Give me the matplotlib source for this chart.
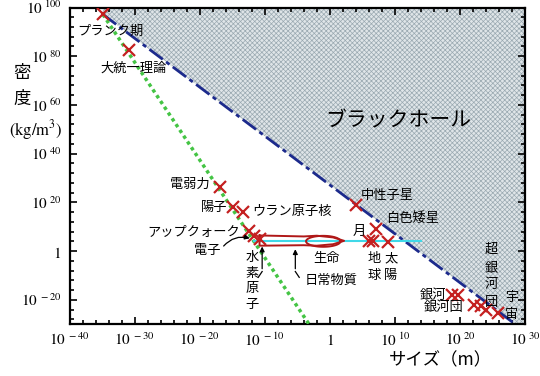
import numpy as np
import matplotlib
matplotlib.use("Agg")
import matplotlib.pyplot as plt
from matplotlib.patches import Polygon
from matplotlib.ticker import FuncFormatter

plt.rcParams['font.family'] = ['Noto Sans CJK JP', 'DejaVu Sans']
plt.rcParams['mathtext.fontset'] = 'stix'
plt.rcParams['hatch.linewidth'] = 0.5

# ---- data (log10 of size in m, log10 of density in kg/m^3) ----
obj_names = ['プランク期', '大統一理論', '電弱力', '陽子', 'ウラン原子核', 'アップクォーク',
             '電子', '水素原子', '中性子星', '白色矮星', '月', '地球', '太陽',
             '銀河1', '銀河2', '銀河団1', '銀河団2', '超銀河団', '宇宙']
log_size = [-34.9, -30.9, -16.9, -14.9, -13.4, -12.4, -11.6, -10.7, 4.1, 7.1,
            6.1, 6.6, 8.9, 18.8, 19.75, 22.2, 23.2, 23.95, 25.8]
log_density = [97.2, 82.5, 26.1, 17.9, 16.1, 8.2, 6.2, 4.8, 18.8, 9.2,
               4.1, 4.1, 3.9, -17.9, -17.9, -22.0, -22.7, -24.3, -25.4]

# black hole limit line (rho ~ R^-2) and early-universe line (rho ~ R^-4)
bh_log_size = [-34.9, 28.5]
bh_log_density = [97.2, -30.0]
eu_log_size = [-34.9, -3.2]
eu_log_density = [97.2, -30.0]

# ordinary matter band (cyan line) and outlines
cyan_log_size = [-11.6, 14.0]
cyan_log_density = [4.3, 4.3]
band_log_size = [-10.8, -10.8, -4.0, -2.0, 0.5, 2.2, 0.5, -2.0, -4.0, -10.8]
band_log_density = [6.4, 2.2, 2.4, 2.2, 2.8, 4.2, 5.6, 6.3, 6.0, 6.4]
life_center = (-1.0, 4.0)
life_width = 5.3
life_height = 4.5

xlim_log = (-40, 30)
ylim_log = (-30, 100)

fig = plt.figure(figsize=(5.4, 3.76), dpi=100)
ax = fig.add_axes([0.129, 0.138, 0.843, 0.842])
ax.set_xscale('log')
ax.set_yscale('log')
ax.set_xlim(10.0**xlim_log[0], 10.0**xlim_log[1])
ax.set_ylim(10.0**ylim_log[0], 10.0**ylim_log[1])

P = lambda v: 10.0 ** np.asarray(v, dtype=float)

# black hole shaded region
poly_x = [bh_log_size[0], bh_log_size[0], bh_log_size[1], xlim_log[1], xlim_log[1]]
poly_y = [ylim_log[1], bh_log_density[0], bh_log_density[1], ylim_log[0], ylim_log[1]]
shade = Polygon(np.column_stack([P(poly_x), P(poly_y)]), closed=True,
                facecolor='#dfe5e8', edgecolor='#9aa9b1', hatch='xxxxxxx', linewidth=0, zorder=1)
ax.add_patch(shade)

ax.plot(P(bh_log_size), P(bh_log_density), color='#1c2a8c', lw=2.0,
        dashes=(6, 1.5, 1.5, 1.5), zorder=3)
ax.plot(P(eu_log_size), P(eu_log_density), color='#44c444', lw=2.5,
        linestyle=(0, (1, 1)), zorder=3)

# ordinary matter
ax.plot(P(cyan_log_size), P(cyan_log_density), color='#40d8e8', lw=1.5, zorder=3)
ax.plot(P(band_log_size), P(band_log_density), color='#b01818', lw=1.4, zorder=4)
t = np.linspace(0, 2 * np.pi, 100)
ax.plot(P(life_center[0] + life_width / 2 * np.cos(t)),
        P(life_center[1] + life_height / 2 * np.sin(t)), color='#b01818', lw=1.4, zorder=4)

ax.plot(P(log_size), P(log_density), linestyle='none', marker='x', markersize=8,
        mew=1.6, color='#c42020', zorder=5)

# ticks
major_x = list(range(-40, 31, 10))
major_y = list(range(-20, 101, 20))
ax.set_xticks(P(major_x))
ax.set_xticks(P(range(-40, 31, 2)), minor=True)
ax.set_yticks(P(major_y))
ax.set_yticks(P(range(-28, 101, 4)), minor=True)

def fmt(v, pos):
    e = int(round(np.log10(v)))
    return r'$1$' if e == 0 else r'$10^{\ %d}$' % e

ax.xaxis.set_major_formatter(FuncFormatter(fmt))
ax.yaxis.set_major_formatter(FuncFormatter(fmt))
ax.xaxis.set_minor_formatter(FuncFormatter(lambda v, p: ''))
ax.yaxis.set_minor_formatter(FuncFormatter(lambda v, p: ''))
ax.tick_params(which='both', direction='in', top=True, right=True, labelsize=11, width=1.2)
ax.tick_params(which='major', length=5, pad=6)
ax.tick_params(which='minor', length=3)
for s in ax.spines.values():
    s.set_linewidth(1.6)

# text labels
fs = 9.5
def lab(x, y, s, ha='left', **kw):
    ax.text(P(x), P(y), s, ha=ha, va='center', fontsize=kw.pop('size', fs), zorder=6, **kw)

lab(-38.9, 90.2, 'プランク期')
lab(-35.3, 74.9, '大統一理論')
lab(-18.4, 27.5, '電弱力', ha='right')
lab(-15.8, 18.0, '陽子', ha='right')
lab(-12.0, 16.4, 'ウラン原子核')
lab(-13.8, 7.7, 'アップクォーク', ha='right')
lab(-18.8, 0.3, '電子', ha='center')
lab(-12.0, -12.3, '水\n素\n原\n子', ha='center', linespacing=1.25)
lab(-0.5, -3.0, '生命', ha='center')
lab(-3.9, -12.1, '日常物質')
lab(4.5, 8.1, '月', ha='center')
lab(6.8, -6.7, '地\n球', ha='center', linespacing=1.4)
lab(9.4, -6.7, '太\n陽', ha='center', linespacing=1.4)
lab(4.8, 23.0, '中性子星')
lab(8.7, 13.5, '白色矮星')
lab(24.8, -10.2, '超\n銀\n河\n団', ha='center', linespacing=1.45)
lab(28.0, -22.4, '宇\n宙', ha='center', linespacing=1.4)
lab(17.9, -18.3, '銀河', ha='right')
lab(20.6, -23.2, '銀河団', ha='right')
lab(10.6, 53.5, 'ブラックホール', ha='center', size=15)

arrow = dict(arrowstyle='-|>', color='black', lw=0.9, mutation_scale=7)
ax.annotate('', xy=(P(-11.9), P(4.9)), xytext=(P(-16.6), P(1.2)),
            arrowprops=dict(connectionstyle='arc3,rad=-0.35', **arrow), zorder=6)
ax.annotate('', xy=(P(-10.4), P(3.0)), xytext=(P(-10.4), P(-8.4)), arrowprops=arrow, zorder=6)
ax.plot(P([-10.4, -11.0]), P([-8.4, -10.8]), color='black', lw=0.9, zorder=6)
ax.annotate('', xy=(P(-5.3), P(1.9)), xytext=(P(-5.3), P(-8.4)), arrowprops=arrow, zorder=6)
ax.plot(P([-5.3, -4.7]), P([-8.4, -10.8]), color='black', lw=0.9, zorder=6)

# axis titles
fig.text(22 / 540, 1 - 73 / 376, '密', ha='center', va='center', fontsize=12.5)
fig.text(22 / 540, 1 - 99 / 376, '度', ha='center', va='center', fontsize=12.5)
fig.text(36 / 540, 1 - 130 / 376, r'$(\mathrm{kg/m}^3)$', ha='center', va='center', fontsize=12)
fig.text(440 / 540, 1 - 360 / 376, 'サイズ（m）', ha='center', va='center', fontsize=12.5)

fig.savefig('out.png', dpi=100)
